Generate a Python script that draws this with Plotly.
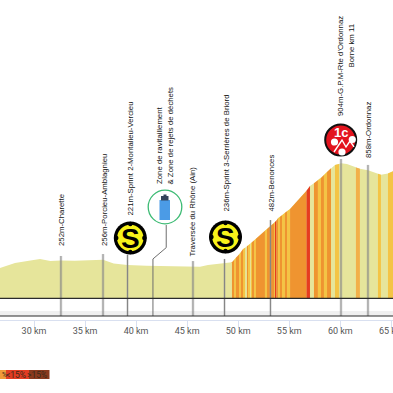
import plotly.graph_objects as go

W = 420  # the window shows the left 393 px, so the last tick label runs off the edge as in the reference
H = 393
# profile: km, elevation (m)
flat_km = [26.67, 28.14, 29.5, 30.59, 31.6, 32.64, 34.0, 35.2, 36.76, 37.8, 39.16, 41.0, 43.0, 45.3, 46.26, 47.04, 48.22, 48.71, 49.39]
flat_elev = [201, 235, 250, 262, 248, 252, 250, 254, 256, 232, 221, 216, 212, 209, 210, 221, 232, 236, 240]
climb_km = [49.39, 49.59, 49.78, 50.08, 50.27, 50.47, 50.67, 50.86, 50.96, 51.16, 51.25, 51.35, 51.55, 51.74,
            52.62, 52.82, 53.51, 53.60, 53.75, 53.90, 54.09, 54.29, 54.58, 54.78, 55.08, 56.69, 57.03, 57.42,
            57.81, 58.11, 58.40, 58.70, 59.09, 59.48, 59.87]
climb_elev = [240, 255, 270, 292, 309, 329, 338, 348, 353, 362, 368, 374, 386, 398,
              451, 463, 503, 510, 520, 536, 546, 556, 572, 582, 597, 720, 752, 770,
              790, 805, 826, 846, 870, 893, 899]
summit_km = [60.07, 60.65]
summit_elev = [904, 899]
after_km = [61.53, 61.92, 62.71, 63.69, 63.98, 64.67, 65.2]
after_elev = [876, 867, 858, 834, 827, 835, 852]

# slope class of each stretch between consecutive climb points
climb_class = list("OYOYOYPOYPYOYOYOYRO" "YOYOY" "ORPOYOYOPY")
# coloured stretches on the descent
late_start_km = [61.53, 63.69, 64.67]
late_end_km = [61.92, 63.98, 65.2]
late_start_elev = [876, 834, 835]
late_end_elev = [867, 827, 852]
late_class = ["L", "Y", "Y"]

palette = {"P": "#e6e59b", "Y": "#f4c445", "O": "#ef9430", "R": "#e63c20", "L": "#f2b04a"}

tick_km = [30, 35, 40, 45, 50, 55, 60, 65]
tick_labels = ["30 km", "35 km", "40 km", "45 km", "50 km", "55 km", "60 km", "65 km"]

marker_km = [32.64, 36.76, 39.16, 45.57, 48.66, 53.16, 60.07, 62.71]
marker_top = [282, 295, 289, 248, 262, 523, 933, 893]
feed_km = [41.65, 41.65, 42.95, 42.95]
feed_elev = [-121, 262, 338, 490]

legend_labels = ["%", "<15%", ">15%"]
legend_colors = ["#f09a38", "#e23c22", "#8a3a1e"]

base_y = -121
x0 = 30 - 34 / 10.21
x1 = 30 + (W - 34) / 10.21
y_low, y_high = -637.6, 2000


def px(x):
    return x / W


def py(y):
    return 1 - y / H


fig = go.Figure()

# base profile (pale)
base_x = flat_km + climb_km[1:] + summit_km + after_km
base_vals = flat_elev + climb_elev[1:] + summit_elev + after_elev
fig.add_trace(go.Scatter(x=base_x, y=base_vals, mode="lines", line=dict(width=0),
                         fill="tozeroy", fillcolor=palette["P"], hoverinfo="skip"))

# coloured stretches
for i, c in enumerate(climb_class):
    if c == "P":
        continue
    fig.add_trace(go.Scatter(x=climb_km[i:i + 2], y=climb_elev[i:i + 2], mode="lines",
                             line=dict(width=0), fill="tozeroy", fillcolor=palette[c], hoverinfo="skip"))
for a, b, ea, eb, c in zip(late_start_km, late_end_km, late_start_elev, late_end_elev, late_class):
    fig.add_trace(go.Scatter(x=[a, b], y=[ea, eb], mode="lines", line=dict(width=0),
                             fill="tozeroy", fillcolor=palette[c], hoverinfo="skip"))

# marker lines
for k, t in zip(marker_km, marker_top):
    fig.add_trace(go.Scatter(x=[k, k], y=[base_y, t], mode="lines",
                             line=dict(width=3, color="rgba(150,150,150,0.25)"), hoverinfo="skip"))
    fig.add_trace(go.Scatter(x=[k, k], y=[base_y, t], mode="lines",
                             line=dict(width=1, color="#858585"), hoverinfo="skip"))
fig.add_trace(go.Scatter(x=feed_km, y=feed_elev, mode="lines",
                         line=dict(width=1, color="#6e6e6e"), hoverinfo="skip"))

shapes = []


def circle(cx, cy, r, fill, line=None, lw=0):
    shapes.append(dict(type="circle", xref="paper", yref="paper", x0=px(cx - r), x1=px(cx + r),
                       y0=py(cy + r), y1=py(cy - r), fillcolor=fill,
                       line=dict(color=line or fill, width=lw), layer="above"))


def rect(xa, ya, xb, yb, fill, layer="above"):
    shapes.append(dict(type="rect", xref="paper", yref="paper", x0=px(xa), x1=px(xb),
                       y0=py(yb), y1=py(ya), fillcolor=fill, line=dict(width=0), layer=layer))


def path(points, color, lw):
    d = "M " + " L ".join(f"{px(a):.4f},{py(b):.4f}" for a, b in points)
    shapes.append(dict(type="path", xref="paper", yref="paper", path=d,
                       line=dict(color=color, width=lw), layer="above"))


# baseline bands
rect(0, 311, W, 316, "#f0f0f0", "below")
for yy in (298.4, 316):
    path([(0, yy), (W, yy)], "#2b2b2b", 1.2)

# sprint icons
for cx, cy in ((130.3, 238), (225.5, 237)):
    circle(cx, cy, 16.5, "#000000")
    circle(cx, cy, 13.2, "#f7f21a")
    for dx, dy in ((0, -14), (0, 14), (-14, 0), (14, 0)):
        circle(cx + dx, cy + dy, 2.2, "#000000")

# feed zone icon
circle(165, 207, 16.8, "#ffffff", "#3dbb74", 1.3)
rect(159.5, 200, 170, 220, "#4b9be6")
rect(161, 196, 168.5, 200.5, "#34435a")
rect(163.5, 194.5, 166.5, 196.5, "#34435a")

# mountain icon
circle(340.7, 140, 15.5, "#e3141e", "#111111", 2)
circle(334.5, 142, 3.6, "#ffffff")
circle(352.3, 139.5, 3.6, "#ffffff")
circle(342, 152, 3.6, "#ffffff")
path([(334, 152), (342, 140), (346, 147), (350, 141), (354, 147)], "#ffffff", 1.4)

# scale legend
legend_edges = [0, 6, 29, 49.5]
for i, col in enumerate(legend_colors):
    rect(legend_edges[i], 370, legend_edges[i + 1], 379, col)

annotations = []


def vtext(text, x, ybottom, size=7.8):
    annotations.append(dict(text=text, xref="paper", yref="paper", x=px(x), y=py(ybottom),
                            xanchor="center", yanchor="bottom", textangle=-90, showarrow=False,
                            font=dict(family="Liberation Sans, Arial", size=size, color="#111111")))


vtext("252m-Charette", 61, 248)
vtext("256m-Porcieu-Amblagnieu", 104, 248)
vtext("221m-Sprint 2-Montalieu-Vercieu", 130, 217.5)
vtext("Zone de ravitaillement", 159.5, 186.5)
vtext("&amp; Zone de rejets de déchets", 170, 186.5)
vtext("Traversée du Rhône (Ain)", 192, 258.5)
vtext("236m-Sprint 3-Serrières de Briord", 225.5, 213.5)
vtext("482m-Benonces", 270.5, 213.5)
vtext("904m-G.P.M-Rte d'Ordonnaz", 340.5, 118.5)
vtext("Borne km 11", 350.5, 70)
vtext("858m-Ordonnaz", 368, 160)

for cx, cy in ((130.3, 238), (225.5, 237)):
    annotations.append(dict(text="<b>S</b>", xref="paper", yref="paper", x=px(cx), y=py(cy),
                            xanchor="center", yanchor="middle", showarrow=False,
                            font=dict(family="Liberation Sans", size=28, color="#000000")))
annotations.append(dict(text="<b>1c</b>", xref="paper", yref="paper", x=px(341), y=py(132),
                        xanchor="center", yanchor="middle", showarrow=False,
                        font=dict(family="Liberation Sans", size=13, color="#ffffff")))
annotations.append(dict(text=legend_labels[0], xref="paper", yref="paper", x=px(0.3), y=py(374.7),
                        xanchor="left", yanchor="middle", showarrow=False,
                        font=dict(family="Roboto", size=6.5, color="#3a2a1a")))
for i, t in list(enumerate(legend_labels))[1:]:
    annotations.append(dict(text=t.replace("<", "&lt;"), xref="paper", yref="paper",
                            x=px(legend_edges[i + 1] - 0.5), y=py(374.7),
                            xanchor="right", yanchor="middle", showarrow=False,
                            font=dict(family="Roboto", size=8.5, color="#3a2a1a")))

fig.update_layout(
    width=W, height=H, margin=dict(l=0, r=0, t=0, b=0), showlegend=False,
    paper_bgcolor="#ffffff", plot_bgcolor="rgba(0,0,0,0)",
    shapes=shapes, annotations=annotations,
    xaxis=dict(range=[x0, x1], domain=[0, 1], anchor="free", position=(H - 320) / H,
               tickmode="array", tickvals=tick_km, ticktext=tick_labels,
               ticks="outside", ticklen=7, tickcolor="#d9e0f0", tickwidth=1,
               ticklabelstandoff=-5,
               showline=True, linecolor="#d9e0f0", linewidth=1, showgrid=False, zeroline=False,
               tickfont=dict(family="Roboto", size=9, color="#555555")),
    yaxis=dict(range=[y_low, y_high], domain=[0, 1], visible=False),
)
fig.write_html("out.html", config=dict(displayModeBar=False),
               post_script="document.body.style.margin='0';document.documentElement.style.overflow='hidden';")
